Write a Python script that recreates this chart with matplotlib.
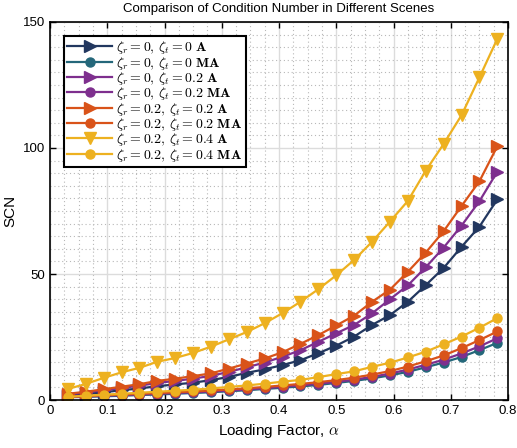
import numpy as np
import matplotlib.pyplot as plt
from matplotlib.ticker import MultipleLocator

plt.rcParams['font.family'] = ['Liberation Sans', 'DejaVu Sans']
plt.rcParams['mathtext.fontset'] = 'cm'

# loading factor, alpha = k/32
alpha = [0.03125, 0.0625, 0.09375, 0.125, 0.15625, 0.1875, 0.21875, 0.25, 0.28125,
         0.3125, 0.34375, 0.375, 0.40625, 0.4375, 0.46875, 0.5, 0.53125, 0.5625,
         0.59375, 0.625, 0.65625, 0.6875, 0.71875, 0.75, 0.78125]

# A = triangles, MA = circles
a_00 = [1.8, 2.4, 3.1, 3.9, 4.6, 5.5, 6.2, 6.9, 7.9, 9.2, 10.8, 12.2, 13.9,
        15.8, 18.6, 21.6, 25.2, 29.8, 33.7, 39.0, 45.6, 52.4, 60.8, 68.8, 79.6]
ma_00 = [1.1, 1.3, 1.5, 1.7, 2.0, 2.2, 2.5, 2.8, 3.1, 3.5, 3.9, 4.4, 4.9,
         5.4, 6.0, 6.8, 7.6, 8.6, 9.8, 11.2, 13.0, 14.9, 17.1, 19.8, 22.7]
a_002 = [2.2, 3.0, 3.9, 4.8, 5.7, 6.8, 7.6, 8.5, 9.6, 11.2, 13.0, 14.9, 17.2,
         19.8, 23.1, 26.5, 29.8, 34.4, 40.0, 45.5, 52.7, 60.5, 69.2, 78.9, 90.6]
ma_002 = [1.2, 1.4, 1.7, 2.0, 2.2, 2.5, 2.8, 3.1, 3.4, 3.8, 4.2, 4.7, 5.3,
          5.8, 6.5, 7.2, 8.1, 9.2, 10.5, 12.1, 14.0, 16.0, 18.5, 21.3, 24.5]
a_22 = [2.5, 3.3, 4.3, 5.3, 6.3, 7.6, 8.5, 9.5, 10.6, 12.5, 14.5, 16.5, 19.0,
        22.3, 25.8, 29.6, 33.5, 39.0, 43.8, 50.9, 58.5, 67.0, 77.0, 86.8, 100.7]
ma_22 = [1.3, 1.6, 1.9, 2.2, 2.5, 2.8, 3.1, 3.4, 3.8, 4.2, 4.7, 5.2, 5.8,
         6.4, 7.1, 7.9, 8.9, 10.1, 11.5, 13.3, 15.4, 17.7, 20.6, 23.8, 27.2]
a_24 = [4.4, 6.4, 8.8, 11.0, 12.8, 15.2, 16.7, 18.7, 21.2, 24.1, 27.0, 30.5, 34.5,
        39.0, 44.0, 49.5, 55.6, 62.8, 70.8, 79.0, 91.0, 101.6, 113.0, 128.0, 143.3]
ma_24 = [1.3, 1.7, 2.1, 2.5, 2.9, 3.3, 3.7, 4.1, 4.6, 5.2, 5.8, 6.5, 7.3,
         8.0, 9.1, 10.3, 11.4, 13.2, 14.8, 16.9, 19.2, 22.1, 25.2, 28.7, 32.5]

labels = [r'$\zeta_r = 0,\, \zeta_t = 0\ \mathbf{A}$',
          r'$\zeta_r = 0,\, \zeta_t = 0\ \mathbf{MA}$',
          r'$\zeta_r = 0,\, \zeta_t = 0.2\ \mathbf{A}$',
          r'$\zeta_r = 0,\, \zeta_t = 0.2\ \mathbf{MA}$',
          r'$\zeta_r = 0.2,\, \zeta_t = 0.2\ \mathbf{A}$',
          r'$\zeta_r = 0.2,\, \zeta_t = 0.2\ \mathbf{MA}$',
          r'$\zeta_r = 0.2,\, \zeta_t = 0.4\ \mathbf{A}$',
          r'$\zeta_r = 0.2,\, \zeta_t = 0.4\ \mathbf{MA}$']
series = [a_00, ma_00, a_002, ma_002, a_22, ma_22, a_24, ma_24]
colors = ['#22375f', '#24677a', '#7e2f8e', '#7e2f8e',
          '#d95319', '#d95319', '#edb120', '#edb120']
markers = ['>', 'o', '>', 'o', '>', 'o', 'v', 'o']

fig = plt.figure(figsize=(5.17, 4.48), dpi=100)
ax = fig.add_axes([0.0967, 0.107, 0.886, 0.844])

for y, lab, c, m in zip(series, labels, colors, markers):
    ms = 8.5 if m != 'o' else 6.5
    ax.plot(alpha, y, color=c, marker=m, markersize=ms, linewidth=1.6, label=lab)

ax.set_xlim(0, 0.8)
ax.set_ylim(0, 150)
ax.xaxis.set_major_locator(MultipleLocator(0.1))
ax.xaxis.set_minor_locator(MultipleLocator(0.025))
ax.yaxis.set_major_locator(MultipleLocator(50))
ax.yaxis.set_minor_locator(MultipleLocator(5))
ax.set_xticks(np.arange(0, 0.81, 0.1))
ax.set_xticklabels(['0', '0.1', '0.2', '0.3', '0.4', '0.5', '0.6', '0.7', '0.8'])

ax.grid(which='major', color='#dcdcdc', linewidth=1.0, linestyle='-')
ax.grid(which='minor', color='#b8b8b8', linewidth=0.8, linestyle=(0, (1, 2.5)))
ax.set_axisbelow(True)
ax.tick_params(which='major', direction='in', top=True, right=True, length=4,
               width=1.0, labelsize=9.5)
ax.tick_params(which='minor', length=0)
for s in ax.spines.values():
    s.set_linewidth(1.2)

ax.set_title('Comparison of Condition Number in Different Scenes', fontsize=9.5, pad=7)
ax.set_xlabel(r'Loading Factor, $\alpha$', fontsize=11)
ax.set_ylabel('SCN', fontsize=11)

leg = ax.legend(loc='upper left', fontsize=10, fancybox=False, framealpha=1,
                edgecolor='black', handlelength=3.2, borderpad=0.25,
                labelspacing=-0.12, handletextpad=0.3, borderaxespad=1.0)
leg.get_frame().set_linewidth(1.5)

fig.savefig('out.png', dpi=100)
